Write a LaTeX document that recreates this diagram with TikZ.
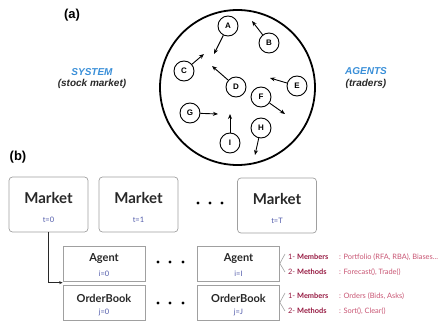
\documentclass[tikz,border=0pt]{standalone}
\usepackage{fontspec}
\setmainfont{Liberation Sans}
\newfontfamily\boxfont{Lato}
\usetikzlibrary{arrows.meta,calc}
\definecolor{sysblue}{RGB}{58,143,216}
\definecolor{txtgray}{RGB}{40,40,40}
\definecolor{boxline}{RGB}{160,160,160}
\definecolor{idxblue}{RGB}{80,90,170}
\definecolor{crim}{RGB}{150,25,65}
\definecolor{pinkred}{RGB}{200,85,115}
\begin{document}
\begin{tikzpicture}[x=1pt,y=-1pt,
  agentc/.style={circle,draw=black,line width=0.9pt,minimum size=20pt,inner sep=0pt,
    font=\fontsize{8}{8}\selectfont\bfseries},
  arr/.style={line width=0.9pt,-{Stealth[length=5pt,width=4pt]}},
  mbox/.style={draw=boxline,line width=0.7pt,rounded corners=3.5pt,minimum width=79pt,minimum height=55pt,inner sep=0pt},
  abox/.style={draw=boxline,line width=0.7pt,minimum width=82pt,minimum height=35pt,inner sep=0pt},
  mtitle/.style={font=\boxfont\fontsize{15}{15}\selectfont\bfseries,text=txtgray},
  atitle/.style={font=\boxfont\fontsize{11}{11}\selectfont\bfseries,text=txtgray},
  idx/.style={font=\boxfont\fontsize{7.5}{7.5}\selectfont,text=idxblue},
  dotc/.style={circle,fill=black,inner sep=0pt,minimum size=3.4pt},
  annot/.style={anchor=west,font=\boxfont\fontsize{7.4}{7.5}\selectfont,text=pinkred,inner sep=0pt},
  chev/.style={draw=boxline,line width=0.6pt},
  lab/.style={font=\fontsize{13}{13}\selectfont\bfseries}
]
\useasboundingbox (0,0) rectangle (442,321);

% ---------- (a) ----------
\node[lab] (la) at (72,15) {(a)};
\node[font=\fontsize{10}{10}\selectfont\bfseries\itshape,text=sysblue] (sys) at (92,72) {SYSTEM};
\node[font=\fontsize{10}{10}\selectfont\bfseries\itshape,text=txtgray] (sysb) at (92,84) {(stock market)};
\node[font=\fontsize{10}{10}\selectfont\bfseries\itshape,text=sysblue] (ag) at (366,71) {AGENTS};
\node[font=\fontsize{10}{10}\selectfont\bfseries\itshape,text=txtgray] (agb) at (366,84) {(traders)};

\node[circle,draw=black,line width=1.8pt,minimum size=155pt,inner sep=0pt] (world) at (237.5,87.5) {};

\node[agentc] (A) at (228,26) {A};
\node[agentc] (B) at (269,43) {B};
\node[agentc] (C) at (184,71) {C};
\node[agentc] (D) at (236,87) {D};
\node[agentc] (E) at (297,86) {E};
\node[agentc] (F) at (261,97) {F};
\node[agentc] (G) at (190,113) {G};
\node[agentc] (H) at (261,128) {H};
\node[agentc] (I) at (230,143) {I};

\coordinate (tA) at (214,54);
\coordinate (tB) at (252,21);
\coordinate (tC) at (204,54);
\coordinate (tD) at (212,66);
\coordinate (tE) at (270,78);
\coordinate (tF) at (285,114);
\coordinate (tG) at (218,114);
\coordinate (tH) at (255,155);
\coordinate (tI) at (230,114);
\foreach \n in {A,B,C,D,E,F,G,H,I} \draw[arr] (\n) -- (t\n);

% ---------- (b) ----------
\node[lab] (lb) at (18,157) {(b)};

\node[mbox] (m0) at (48.5,204.5) {};
\node[mbox] (m1) at (138.5,204.5) {};
\node[mbox] (m2) at (277,205.5) {};
\foreach \m/\t in {m0/t=0,m1/t=1,m2/t=T}{
  \node[mtitle] (\m t) at ($(\m.center)+(0,-7)$) {Market};
  \node[idx] (\m i) at ($(\m.center)+(0,15.5)$) {\t};
}
\node[dotc] (d1) at (198,203) {};
\node[dotc] (d2) at (210,203) {};
\node[dotc] (d3) at (222,203) {};

\node[abox] (a0) at (104,263.5) {};
\node[abox] (o0) at (104,302.5) {};
\node[abox] (a1) at (238.5,263.5) {};
\node[abox] (o1) at (238.5,302.5) {};
\foreach \b/\t/\i in {a0/Agent/i=0,a1/Agent/i=I,o0/OrderBook/j=0,o1/OrderBook/j=J}{
  \node[atitle] (\b t) at ($(\b.center)+(0,-4.5)$) {\t};
  \node[idx] (\b i) at ($(\b.center)+(0,10)$) {\i};
}
\node[dotc] (e1) at (158,262) {};
\node[dotc] (e2) at (170,262) {};
\node[dotc] (e3) at (183,262) {};
\node[dotc] (f1) at (158,303) {};
\node[dotc] (f2) at (170,303) {};
\node[dotc] (f3) at (183,303) {};

\coordinate (join) at ($(a0.south west)!0.4!(o0.north west)$);
\draw[line width=0.6pt,draw=txtgray,-{Stealth[length=3.5pt,width=3pt]}] (m0.south) |- (join);

% annotations
\coordinate (ca1) at (285,254);
\coordinate (ca2) at (285,272);
\coordinate (cb1) at (285,293);
\coordinate (cb2) at (285,311);
\draw[chev] (ca1) -- (a1.east) -- (ca2);
\draw[chev] (cb1) -- (o1.east) -- (cb2);

\node[annot] (n1) at (288,257) {\makebox[51pt][l]{\textcolor{crim}{1- \textbf{Members}}}: Portfolio (RFA, RBA), Biases...};
\node[annot] (n2) at (288,272) {\makebox[51pt][l]{\textcolor{crim}{2- \textbf{Methods}}}: Forecast(), Trade()};
\node[annot] (n3) at (288,296) {\makebox[51pt][l]{\textcolor{crim}{1- \textbf{Members}}}: Orders (Bids, Asks)};
\node[annot] (n4) at (288,311) {\makebox[51pt][l]{\textcolor{crim}{2- \textbf{Methods}}}: Sort(), Clear()};
\end{tikzpicture}
\end{document}
